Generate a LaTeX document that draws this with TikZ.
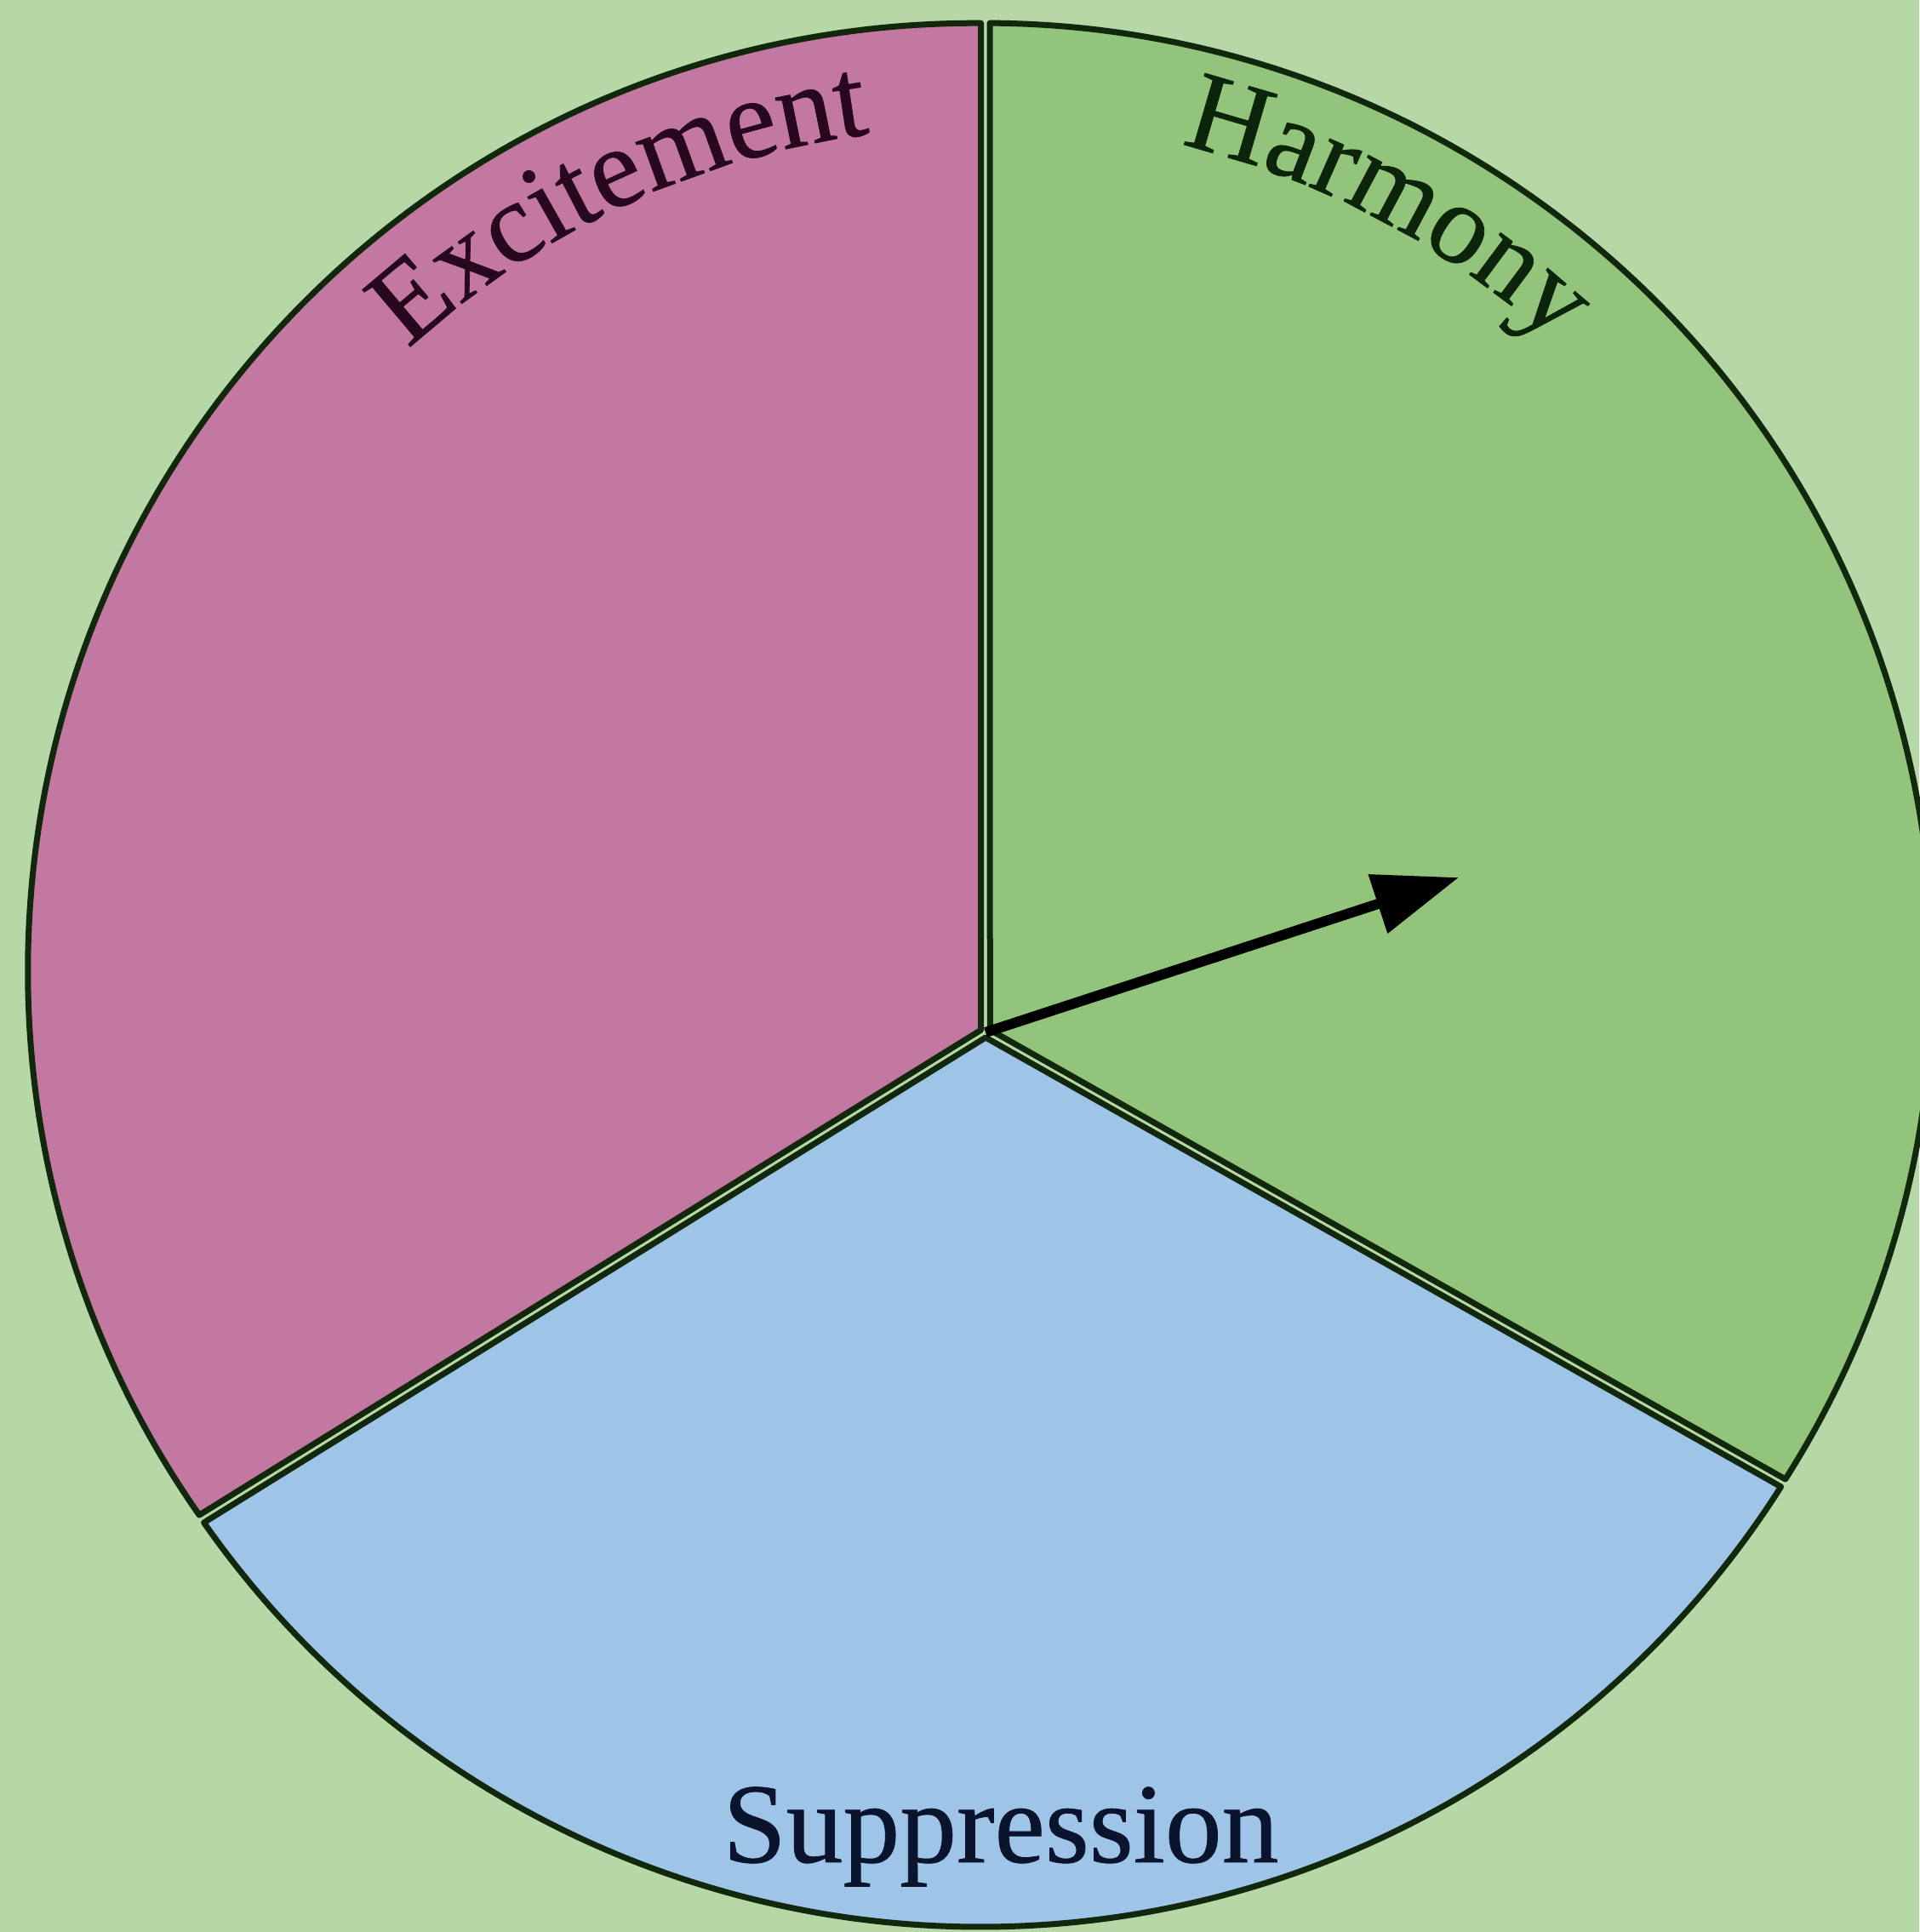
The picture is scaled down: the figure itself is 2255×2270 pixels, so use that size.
\documentclass[tikz,border=0pt]{standalone}
\usepackage{fontspec}
\setmainfont{Liberation Serif}
\newfontfamily\moodfam{Liberation Serif}[FakeBold=0.6]
\usetikzlibrary{arrows.meta, decorations.text, calc}
\definecolor{moodbg}{RGB}{181,216,166}
\definecolor{moodedge}{RGB}{18,40,12}
\definecolor{excpink}{RGB}{194,120,160}
\definecolor{harmgreen}{RGB}{146,196,124}
\definecolor{suppblue}{RGB}{158,196,232}
\definecolor{exctext}{RGB}{40,8,30}
\definecolor{harmtext}{RGB}{12,36,10}
\definecolor{supptext}{RGB}{10,20,45}
\newcommand{\moodfont}{\moodfam\fontsize{38}{40}\selectfont}

\begin{document}
\begin{tikzpicture}[x=0.1mm, y=0.1mm,
    wedge/.style={draw=moodedge, line width=0.7mm, line join=round},
    ptr/.style={-{Triangle[length=10mm, width=7mm]}, line width=1.2mm, black},
    lbl/.style={font=\moodfont, inner sep=0pt}
  ]
  \fill[moodbg] (0,0) rectangle (2255,2270);
  \useasboundingbox (0,0) rectangle (2255,2270);
  \coordinate (ctr) at (1152,1126);
  \coordinate (hub) at (1158,1057);
  \coordinate (tip) at (1714,1239);
  \def\rad{1114}
  % the three sectors
  \begin{scope}[shift={(ctr)}]
    \filldraw[wedge, fill=excpink, shift={(152:6)}]
      (6,-69) -- (89.7:\rad) arc[start angle=89.7, end angle=215, radius=\rad] -- cycle;
    \filldraw[wedge, fill=suppblue, shift={(271:6)}]
      (6,-69) -- (215:\rad) arc[start angle=215, end angle=327.6, radius=\rad] -- cycle;
    \filldraw[wedge, fill=harmgreen, shift={(29:6)}]
      (6,-69) -- (-32.4:\rad) arc[start angle=-32.4, end angle=89.7, radius=\rad] -- cycle;
  \end{scope}
  % labels
  \path[decorate, decoration={text along path, text align=center,
      text={|\moodfont\color{exctext}|Excitement}}]
    ($(ctr)+(145:995)$) arc[start angle=145, end angle=85, radius=995];
  \path[decorate, decoration={text along path, text align=center,
      text={|\moodfont\color{harmtext}|Harmony}}]
    ($(ctr)+(89:1002)$) arc[start angle=89, end angle=35, radius=1002];
  \node[lbl, text=supptext, anchor=base] (supp) at (1176,82) {Suppression};
  \draw[ptr] (hub) -- (tip);
\end{tikzpicture}
\end{document}
